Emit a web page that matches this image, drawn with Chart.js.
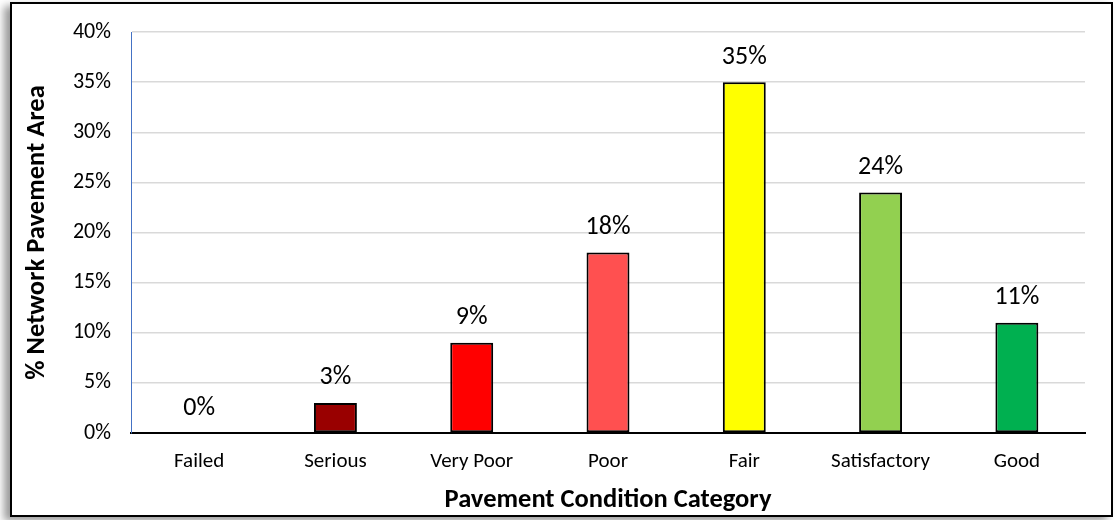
<!DOCTYPE html>
<html>
<head>
<meta charset="utf-8">
<script src="https://cdn.jsdelivr.net/npm/chart.js@4"></script>
<style>
  html, body { margin: 0; padding: 0; background: #fff; }
  #frame {
    position: absolute;
    left: 10px;
    top: 2px;
    width: 1103px;
    height: 515px;
    box-sizing: border-box;
    border: 2px solid #000;
    box-shadow: -6px 4px 8px rgba(0, 0, 0, 0.4);
    background: #fff;
  }
  #box { position: relative; width: 1099px; height: 511px; }
</style>
</head>
<body>
<div id="frame"><div id="box"><canvas id="pavementChart"></canvas></div></div>
<script>
// Pavement condition categories and share of network area (%)
const categories = ["Failed", "Serious", "Very Poor", "Poor", "Fair", "Satisfactory", "Good"];
const shares = [0, 3, 9, 18, 35, 24, 11];
const barColors = ["#7f7f7f", "#990000", "#ff0000", "#ff5050", "#ffff00", "#92d050", "#00b050"];
const yTicks = [0, 5, 10, 15, 20, 25, 30, 35, 40];

const FONT = "Carlito, Calibri, Lato, sans-serif";

// Draws the value labels above each bar
const barLabels = {
  id: "barLabels",
  afterDatasetsDraw(chart) {
    const ctx = chart.ctx;
    const meta = chart.getDatasetMeta(0);
    ctx.save();
    ctx.font = "26px " + FONT;
    ctx.fillStyle = "#000";
    ctx.textAlign = "center";
    ctx.textBaseline = "middle";
    meta.data.forEach((bar, i) => {
      ctx.fillText(shares[i] + "%", bar.x, bar.y - 25);
    });
    ctx.restore();
  },
};

const ctx = document.getElementById("pavementChart").getContext("2d");
new Chart(ctx, {
  type: "bar",
  data: {
    labels: categories,
    datasets: [
      {
        data: shares,
        backgroundColor: barColors,
        borderColor: "#000",
        borderWidth: shares.map((v) => (v === 0 ? 0 : 2)),
        borderSkipped: false,
        barPercentage: 0.315,
        categoryPercentage: 1,
      },
    ],
  },
  options: {
    responsive: true,
    maintainAspectRatio: false,
    animation: false,
    layout: { padding: { top: 28, right: 26, left: 0, bottom: 0 } },
    plugins: {
      legend: { display: false },
      tooltip: { enabled: false },
    },
    scales: {
      x: {
        grid: { display: false, drawTicks: false },
        border: { display: true, color: "#000", width: 2 },
        ticks: { color: "#000", padding: 16, font: { family: FONT, size: 21 } },
        title: {
          display: true,
          text: "Pavement Condition Category",
          color: "#000",
          font: { family: FONT, size: 26.5, weight: "bold", lineHeight: 1.1 },
          padding: { top: 0, bottom: 0 },
        },
        afterFit(scale) {
          scale.height = 82;
        },
      },
      y: {
        min: 0,
        max: 40,
        afterBuildTicks(scale) {
          scale.ticks = yTicks.map((v) => ({ value: v }));
        },
        grid: { color: "#d9d9d9", lineWidth: 1.5, drawTicks: false },
        border: { display: true, color: "#4472c4", width: 1 },
        ticks: {
          color: "#000",
          padding: 20,
          font: { family: FONT, size: 22 },
          callback: (v) => v + "%",
        },
        title: {
          display: true,
          text: "% Network Pavement Area",
          color: "#000",
          font: { family: FONT, size: 26.5, weight: "bold" },
          padding: { top: 9, bottom: 0 },
        },
        afterFit(scale) {
          scale.width = 119;
          // keep the tick padding from pushing the plot area down
          scale.paddingTop = 0;
          scale.paddingBottom = 0;
        },
      },
    },
  },
  plugins: [barLabels],
});
</script>
</body>
</html>
